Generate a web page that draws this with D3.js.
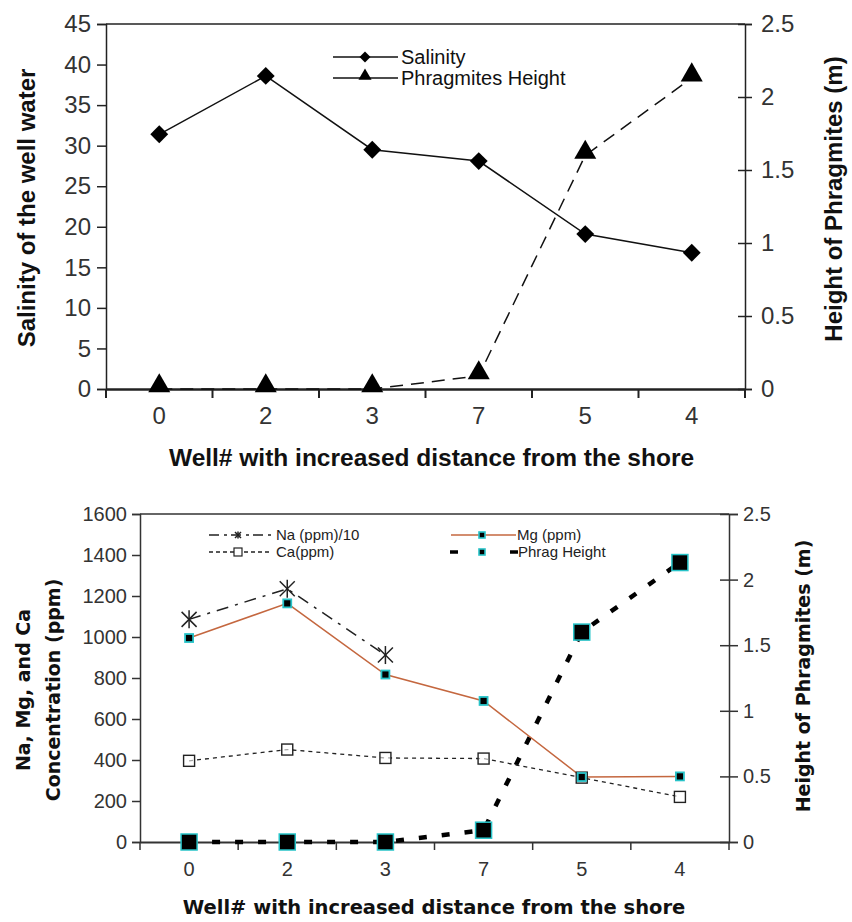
<!DOCTYPE html>
<html><head><meta charset="utf-8">
<script src="https://cdn.jsdelivr.net/npm/d3@7"></script>
<style>body{margin:0;background:#fff}svg{display:block}</style>
</head><body>
<svg id="c" width="852" height="922"></svg>
<script>
// ---------- data ----------
const wells = ["0","2","3","7","5","4"];
const salinity = [31.4, 38.6, 29.5, 28.1, 19.1, 16.8];
const phragHeight = [0, 0, 0, 0.09, 1.6, 2.13];
const naPpmDiv10 = [1086, 1235, 912, null, null, null];
const mgPpm = [995, 1164, 817, 688, 317, 320];
const caPpm = [396, 451, 410, 407, 314, 220];
const salinityTicks = [0,5,10,15,20,25,30,35,40,45];
const heightTicks = [0,0.5,1,1.5,2,2.5];
const concTicks = [0,200,400,600,800,1000,1200,1400,1600];

const svg = d3.select("#c");
const AX = "#222";

// =============== TOP CHART ===============
(function(){
  const L=106,R=745,T=24,B=389;
  const g = svg.append("g");
  const x = d3.scaleBand().domain(wells).range([L,R]).padding(0);
  const yL = d3.scaleLinear().domain([0,45]).range([B,T]);
  const yR = d3.scaleLinear().domain([0,2.5]).range([B,T]);
  const font = "Liberation Sans, Arial, sans-serif";

  g.append("line").attr("x1",L).attr("x2",R).attr("y1",T).attr("y2",T).attr("stroke",AX).attr("stroke-width",1.5);
  const la = g.append("g").attr("transform",`translate(${L},0)`)
    .call(d3.axisLeft(yL).tickValues(salinityTicks).tickSize(9).tickPadding(6).tickFormat(d3.format("d")));
  const ra = g.append("g").attr("transform",`translate(${R},0)`)
    .call(d3.axisRight(yR).tickValues(heightTicks).tickSize(7).tickPadding(9).tickFormat(d=>d));
  ra.selectAll(".tick line").attr("x1",-7).attr("x2",7);
  const ba = g.append("g").attr("transform",`translate(0,${B})`)
    .call(d3.axisBottom(x).tickSize(0).tickPadding(18));
  const edges = wells.map(w=>x(w)).concat([R]);
  g.selectAll("line.xt").data(edges).join("line").attr("class","xt")
    .attr("x1",d=>d).attr("x2",d=>d).attr("y1",B).attr("y2",B+9).attr("stroke",AX).attr("stroke-width",2);
  [la,ra,ba].forEach(a=>{
    a.select(".domain").attr("stroke",AX).attr("stroke-width",1.5);
    a.selectAll(".tick line").attr("stroke",AX).attr("stroke-width",1.5);
    a.selectAll("text").attr("font-family",font).attr("font-size",24).attr("fill","#333");
  });
  ba.select(".domain").attr("stroke-width",2.5);

  g.append("text").attr("x",(L+R)/2+6).attr("y",466).attr("text-anchor","middle")
    .attr("font-family",font).attr("font-weight","bold").attr("font-size",24.5).attr("fill","#111")
    .text("Well# with increased distance from the shore");
  g.append("text").attr("transform",`translate(35,${208}) rotate(-90)`).attr("text-anchor","middle")
    .attr("font-family",font).attr("font-weight","bold").attr("font-size",24).attr("fill","#111")
    .text("Salinity of the well water");
  g.append("text").attr("transform",`translate(842,${199}) rotate(-90)`).attr("text-anchor","middle")
    .attr("font-family",font).attr("font-weight","bold").attr("font-size",24).attr("fill","#111")
    .text("Height of Phragmites (m)");

  const cx = w => x(w)+x.bandwidth()/2;
  const tri = d3.symbol().type(d3.symbolTriangle).size(210);

  const phr = wells.map((w,i)=>({w,v:phragHeight[i]}));
  g.append("path").datum(phr).attr("fill","none").attr("stroke","#111").attr("stroke-width",1.5)
    .attr("stroke-dasharray","13,8")
    .attr("d",d3.line().x(d=>cx(d.w)).y(d=>yR(d.v)));
  const sal = wells.map((w,i)=>({w,v:salinity[i]}));
  g.append("path").datum(sal).attr("fill","none").attr("stroke","#111").attr("stroke-width",1.5)
    .attr("d",d3.line().x(d=>cx(d.w)).y(d=>yL(d.v)));
  g.selectAll("path.dia").data(sal).join("path").attr("class","dia")
    .attr("transform",d=>`translate(${cx(d.w)},${yL(d.v)}) rotate(45)`)
    .attr("d",d3.symbol().type(d3.symbolSquare).size(160)).attr("fill","#000");
  g.selectAll("path.tri").data(phr).join("path").attr("class","tri")
    .attr("transform",d=>`translate(${cx(d.w)},${yR(d.v)-3})`)
    .attr("d",tri).attr("fill","#000");

  const lg = g.append("g");
  [["Salinity",57,"dia"],["Phragmites Height",78,"tri"]].forEach(([t,y,m])=>{
    lg.append("line").attr("x1",333).attr("x2",398).attr("y1",y).attr("y2",y).attr("stroke","#111").attr("stroke-width",1.5);
    if(m==="dia") lg.append("path").attr("transform",`translate(365,${y}) rotate(45)`).attr("d",d3.symbol().type(d3.symbolSquare).size(60)).attr("fill","#000");
    else lg.append("path").attr("transform",`translate(365,${y-2})`).attr("d",d3.symbol().type(d3.symbolTriangle).size(75)).attr("fill","#000");
    lg.append("text").attr("x",401).attr("y",y+7).attr("font-family",font).attr("font-size",20).attr("fill","#111").text(t);
  });
})();

// =============== BOTTOM CHART ===============
(function(){
  const L=140,R=729,T=514,B=842;
  const g = svg.append("g");
  const x = d3.scaleBand().domain(wells).range([L,R]).padding(0);
  const yL = d3.scaleLinear().domain([0,1600]).range([B,T]);
  const yR = d3.scaleLinear().domain([0,2.5]).range([B,T]);
  const font = "Liberation Sans, Arial, sans-serif";
  const tfont = "DejaVu Sans, Verdana, sans-serif";
  const AX2 = "#333";

  g.append("line").attr("x1",L).attr("x2",R).attr("y1",T).attr("y2",T).attr("stroke",AX2).attr("stroke-width",1.5);
  const la = g.append("g").attr("transform",`translate(${L},0)`)
    .call(d3.axisLeft(yL).tickValues(concTicks).tickSize(8).tickPadding(5).tickFormat(d3.format("d")));
  const ra = g.append("g").attr("transform",`translate(${R},0)`)
    .call(d3.axisRight(yR).tickValues(heightTicks).tickSize(9).tickPadding(5).tickFormat(d=>d));
  ra.selectAll(".tick line").attr("x1",-9).attr("x2",9);
  const ba = g.append("g").attr("transform",`translate(0,${B})`)
    .call(d3.axisBottom(x).tickSize(0).tickPadding(20));
  const edges = wells.map(w=>x(w)).concat([R]);
  g.selectAll("line.xt").data(edges).join("line").attr("class","xt")
    .attr("x1",d=>d).attr("x2",d=>d).attr("y1",B).attr("y2",B+8).attr("stroke",AX2).attr("stroke-width",1.5);
  [la,ra,ba].forEach(a=>{
    a.select(".domain").attr("stroke",AX2).attr("stroke-width",1.5);
    a.selectAll(".tick line").attr("stroke",AX2).attr("stroke-width",1.5);
    a.selectAll("text").attr("font-family",font).attr("font-size",20).attr("fill","#333");
  });
  ba.select(".domain").attr("stroke-width",2);

  g.append("text").attr("x",434).attr("y",914).attr("text-anchor","middle")
    .attr("font-family",tfont).attr("font-weight","bold").attr("font-size",19.5).attr("fill","#111")
    .text("Well# with increased distance from the shore");
  g.append("text").attr("transform",`translate(30,690) rotate(-90)`).attr("text-anchor","middle")
    .attr("font-family",tfont).attr("font-weight","bold").attr("font-size",19).attr("fill","#111")
    .text("Na, Mg, and Ca");
  g.append("text").attr("transform",`translate(60,690) rotate(-90)`).attr("text-anchor","middle")
    .attr("font-family",tfont).attr("font-weight","bold").attr("font-size",19).attr("fill","#111")
    .text("Concentration (ppm)");
  g.append("text").attr("transform",`translate(810,676) rotate(-90)`).attr("text-anchor","middle")
    .attr("font-family",tfont).attr("font-weight","bold").attr("font-size",19).attr("fill","#111")
    .text("Height of Phragmites (m)");

  const cx = w => x(w)+x.bandwidth()/2;
  const CY = "#27c3c8";
  const line = (sc)=>d3.line().defined(d=>d.v!=null).x(d=>cx(d.w)).y(d=>sc(d.v));

  const phr = wells.map((w,i)=>({w,v:phragHeight[i]}));
  const na = wells.map((w,i)=>({w,v:naPpmDiv10[i]}));
  const mg = wells.map((w,i)=>({w,v:mgPpm[i]}));
  const ca = wells.map((w,i)=>({w,v:caPpm[i]}));

  g.append("path").datum(phr).attr("fill","none").attr("stroke","#000").attr("stroke-width",4.5)
    .attr("stroke-dasharray","8,15").attr("d",line(yR));
  g.append("path").datum(ca).attr("fill","none").attr("stroke","#222").attr("stroke-width",1.3)
    .attr("stroke-dasharray","4,4").attr("d",line(yL));
  g.append("path").datum(na.filter(d=>d.v!=null)).attr("fill","none").attr("stroke","#222").attr("stroke-width",1.5)
    .attr("stroke-dasharray","12,7,3,7").attr("d",line(yL));
  g.append("path").datum(mg).attr("fill","none").attr("stroke","#c4673f").attr("stroke-width",1.5)
    .attr("d",line(yL));

  g.selectAll("rect.ph").data(phr).join("rect").attr("class","ph")
    .attr("x",d=>cx(d.w)-8).attr("y",d=>yR(d.v)-8).attr("width",16).attr("height",16)
    .attr("fill","#000").attr("stroke",CY).attr("stroke-width",1.5);
  g.selectAll("rect.ca").data(ca).join("rect").attr("class","ca")
    .attr("x",d=>cx(d.w)-5.5).attr("y",d=>yL(d.v)-5.5).attr("width",11).attr("height",11)
    .attr("fill","#fff").attr("fill-opacity",0.6).attr("stroke","#222").attr("stroke-width",1.4);
  const star = (sel,s)=>{
    sel.append("line").attr("x1",-s).attr("y1",-s).attr("x2",s).attr("y2",s);
    sel.append("line").attr("x1",-s).attr("y1",s).attr("x2",s).attr("y2",-s);
    sel.append("line").attr("x1",0).attr("y1",-s*1.2).attr("x2",0).attr("y2",s*1.2);
    sel.attr("stroke","#222").attr("stroke-width",1.5);
  };
  na.filter(d=>d.v!=null).forEach(d=>{
    star(g.append("g").attr("transform",`translate(${cx(d.w)},${yL(d.v)})`),7.5);
  });
  g.selectAll("rect.mg").data(mg).join("rect").attr("class","mg")
    .attr("x",d=>cx(d.w)-4).attr("y",d=>yL(d.v)-4).attr("width",8).attr("height",8)
    .attr("fill","#000").attr("stroke",CY).attr("stroke-width",1.8);

  const lf = 15;
  const r1 = 535, r2 = 552;
  g.append("line").attr("x1",209).attr("x2",274).attr("y1",r1).attr("y2",r1)
    .attr("stroke","#222").attr("stroke-width",1.5).attr("stroke-dasharray","10,5,3,4,0,0");
  star(g.append("g").attr("transform",`translate(238,${r1})`),3);
  g.append("text").attr("x",276).attr("y",r1+5).attr("font-family",font).attr("font-size",lf).attr("fill","#222").text("Na (ppm)/10");
  g.append("line").attr("x1",209).attr("x2",272).attr("y1",r2).attr("y2",r2)
    .attr("stroke","#222").attr("stroke-width",1.3).attr("stroke-dasharray","4,3");
  g.append("rect").attr("x",234).attr("y",r2-4).attr("width",8).attr("height",8).attr("fill","#fff").attr("stroke","#222").attr("stroke-width",1.2);
  g.append("text").attr("x",276).attr("y",r2+5).attr("font-family",font).attr("font-size",lf).attr("fill","#222").text("Ca(ppm)");
  g.append("line").attr("x1",451).attr("x2",516).attr("y1",r1).attr("y2",r1).attr("stroke","#c4673f").attr("stroke-width",1.5);
  g.append("rect").attr("x",479).attr("y",r1-3).attr("width",6).attr("height",6).attr("fill","#000").attr("stroke",CY).attr("stroke-width",1.6);
  g.append("text").attr("x",517).attr("y",r1+5).attr("font-family",font).attr("font-size",lf).attr("fill","#222").text("Mg (ppm)");
  g.append("line").attr("x1",450).attr("x2",518).attr("y1",r2).attr("y2",r2).attr("stroke","#000").attr("stroke-width",3.5).attr("stroke-dasharray","8,52,8");
  g.append("rect").attr("x",479).attr("y",r2-3).attr("width",6).attr("height",6).attr("fill","#000").attr("stroke",CY).attr("stroke-width",1.6);
  g.append("text").attr("x",518).attr("y",r2+5).attr("font-family",font).attr("font-size",lf).attr("fill","#222").text("Phrag Height");
})();
</script>
</body></html>
